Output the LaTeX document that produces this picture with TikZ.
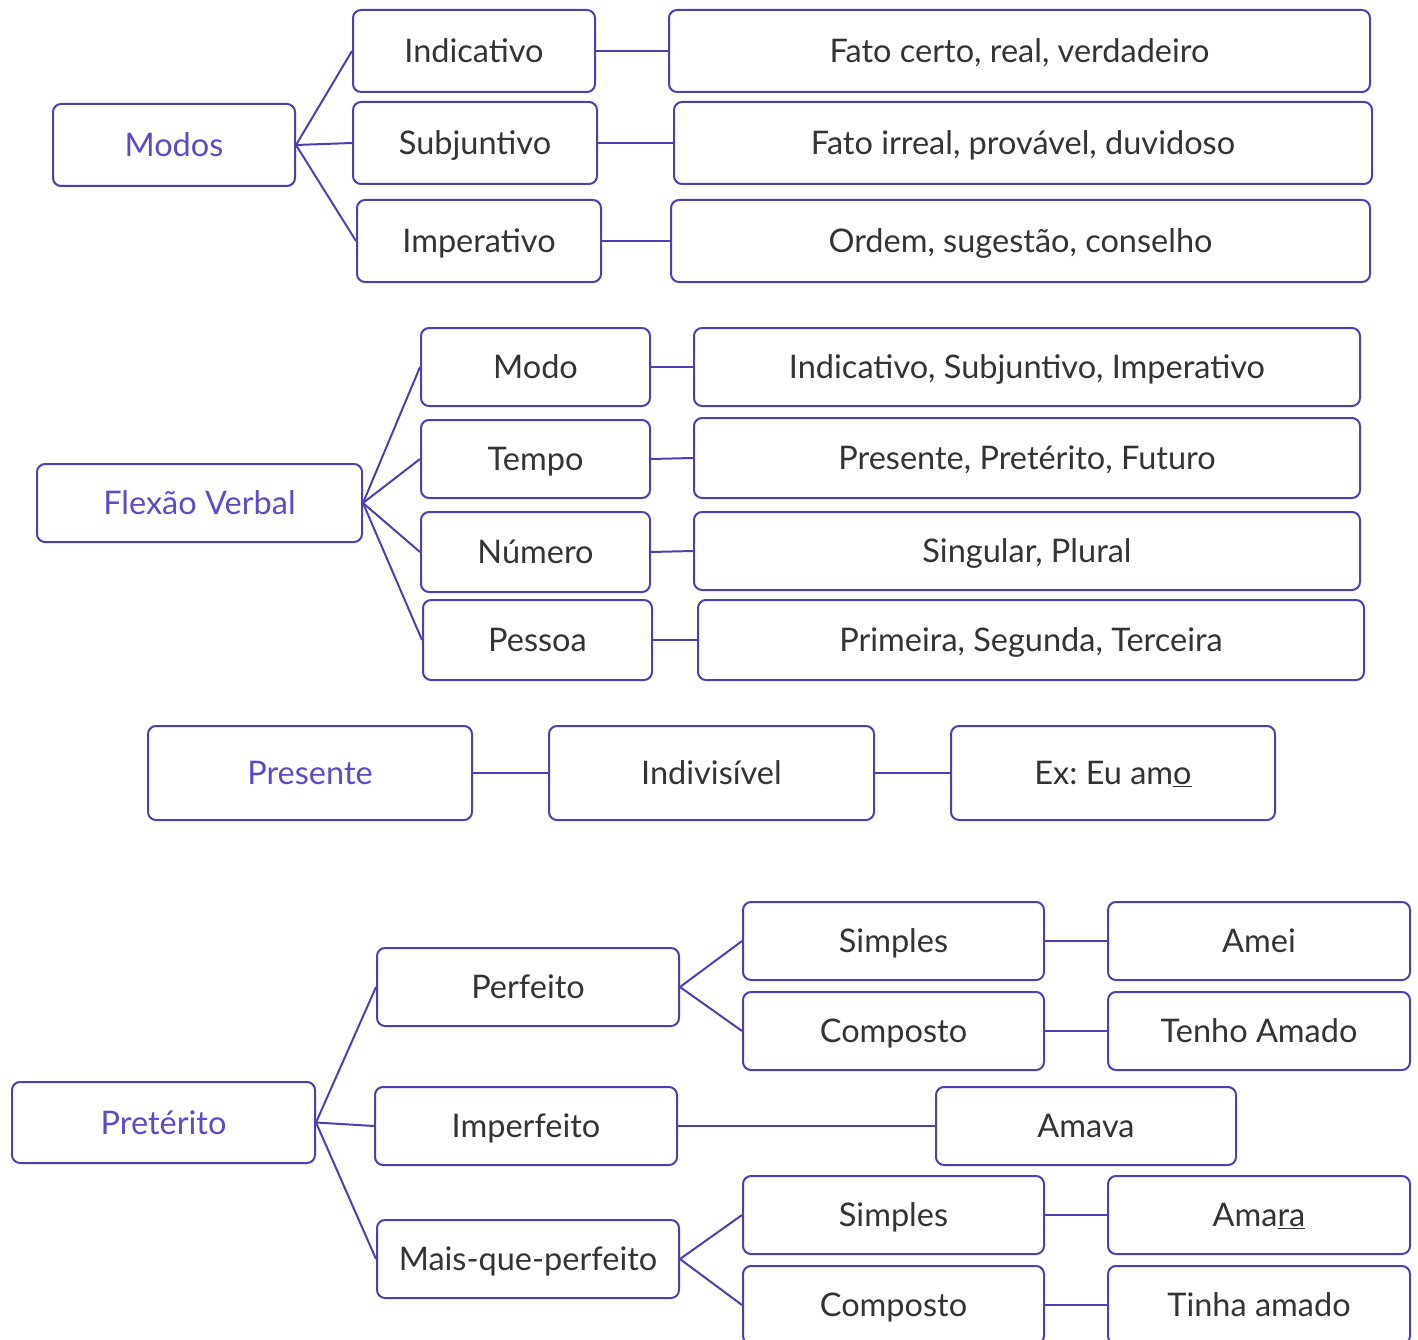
\documentclass[tikz,border=0pt]{standalone}
\usepackage{fontspec}
\setmainfont{Lato}
\frenchspacing
\definecolor{boxc}{HTML}{4B3FB4}
\definecolor{purp}{HTML}{5A4BC6}
\definecolor{txt}{HTML}{333333}
\tikzset{
  box/.style={draw=boxc, line width=2pt, rounded corners=8pt, inner sep=0pt, anchor=center, text=txt,
    font=\fontsize{32.5}{38}\selectfont, text height=23.4pt, text depth=0pt},
  head/.style={box, text=purp},
  conn/.style={draw=boxc, line width=2pt},
}
\begin{document}
\begin{tikzpicture}[x=1pt,y=-1pt]
\useasboundingbox (0,0) rectangle (1418,1340);
\clip (0,0) rectangle (1418,1340);
% Section 1
\node[head, minimum width=242pt, minimum height=82pt] (modos) at (174,145) {Modos};
\node[box, minimum width=242pt, minimum height=82pt] (ind) at (474,51) {Indicativo};
\node[box, minimum width=701pt, minimum height=82pt] (indd) at (1019.5,51) {Fato certo, real, verdadeiro};
\node[box, minimum width=244pt, minimum height=82pt] (sub) at (475,143) {Subjuntivo};
\node[box, minimum width=698pt, minimum height=82pt] (subd) at (1023,143) {Fato irreal, provável, duvidoso};
\node[box, minimum width=244pt, minimum height=82pt] (imp) at (479,241) {Imperativo};
\node[box, minimum width=699pt, minimum height=82pt] (impd) at (1020.5,241) {Ordem, sugestão, conselho};
\foreach \c/\d in {ind/indd, sub/subd, imp/impd}{
  \draw[conn] (modos.east) -- (\c.west);
  \draw[conn] (\c.east) -- (\d.west);
}
% Section 2
\node[head, minimum width=325pt, minimum height=78pt] (flex) at (199.5,503) {Flexão Verbal};
\node[box, minimum width=229pt, minimum height=78pt] (modo) at (535.5,367) {Modo};
\node[box, minimum width=666pt, minimum height=78pt] (modod) at (1027,367) {Indicativo, Subjuntivo, Imperativo};
\node[box, minimum width=229pt, minimum height=78pt] (tempo) at (535.5,459) {Tempo};
\node[box, minimum width=666pt, minimum height=80pt] (tempod) at (1027,458) {Presente, Pretérito, Futuro};
\node[box, minimum width=229pt, minimum height=80pt] (num) at (535.5,552) {Número};
\node[box, minimum width=666pt, minimum height=78pt] (numd) at (1027,551) {Singular, Plural};
\node[box, minimum width=229pt, minimum height=80pt] (pes) at (537.5,640) {Pessoa};
\node[box, minimum width=666pt, minimum height=80pt] (pesd) at (1031,640) {Primeira, Segunda, Terceira};
\foreach \c/\d in {modo/modod, tempo/tempod, num/numd, pes/pesd}{
  \draw[conn] (flex.east) -- (\c.west);
  \draw[conn] (\c.east) -- (\d.west);
}
% Section 3
\node[head, minimum width=324pt, minimum height=94pt] (pres) at (310,773) {Presente};
\node[box, minimum width=325pt, minimum height=94pt] (indiv) at (711.5,773) {Indivisível};
\node[box, minimum width=324pt, minimum height=94pt] (ex) at (1113,773) {Ex: Eu am\underline{o}};
\draw[conn] (pres.east) -- (indiv.west);
\draw[conn] (indiv.east) -- (ex.west);
% Section 4
\node[head, minimum width=303pt, minimum height=81pt] (pret) at (163.5,1122.5) {Pretérito};
\node[box, minimum width=302pt, minimum height=78pt] (perf) at (528,987) {Perfeito};
\node[box, minimum width=301pt, minimum height=78pt] (ps) at (893.5,941) {Simples};
\node[box, minimum width=302pt, minimum height=78pt] (psx) at (1259,941) {Amei};
\node[box, minimum width=301pt, minimum height=78pt] (pc) at (893.5,1031) {Composto};
\node[box, minimum width=302pt, minimum height=78pt] (pcx) at (1259,1031) {Tenho Amado};
\node[box, minimum width=302pt, minimum height=78pt] (impf) at (526,1126) {Imperfeito};
\node[box, minimum width=300pt, minimum height=78pt] (impfx) at (1086,1126) {Amava};
\node[box, minimum width=302pt, minimum height=78pt] (mqp) at (528,1259) {Mais-que-perfeito};
\node[box, minimum width=301pt, minimum height=78pt] (ms) at (893.5,1215) {Simples};
\node[box, minimum width=302pt, minimum height=78pt] (msx) at (1259,1215) {Ama\underline{ra}};
\node[box, minimum width=301pt, minimum height=78pt] (mc) at (893.5,1305) {Composto};
\node[box, minimum width=302pt, minimum height=78pt] (mcx) at (1259,1305) {Tinha amado};
\draw[conn] (pret.east) -- (perf.west);
\draw[conn] (pret.east) -- (impf.west);
\draw[conn] (pret.east) -- (mqp.west);
\draw[conn] (perf.east) -- (ps.west);
\draw[conn] (perf.east) -- (pc.west);
\draw[conn] (mqp.east) -- (ms.west);
\draw[conn] (mqp.east) -- (mc.west);
\draw[conn] (ps.east) -- (psx.west);
\draw[conn] (pc.east) -- (pcx.west);
\draw[conn] (impf.east) -- (impfx.west);
\draw[conn] (ms.east) -- (msx.west);
\draw[conn] (mc.east) -- (mcx.west);
\end{tikzpicture}
\end{document}
